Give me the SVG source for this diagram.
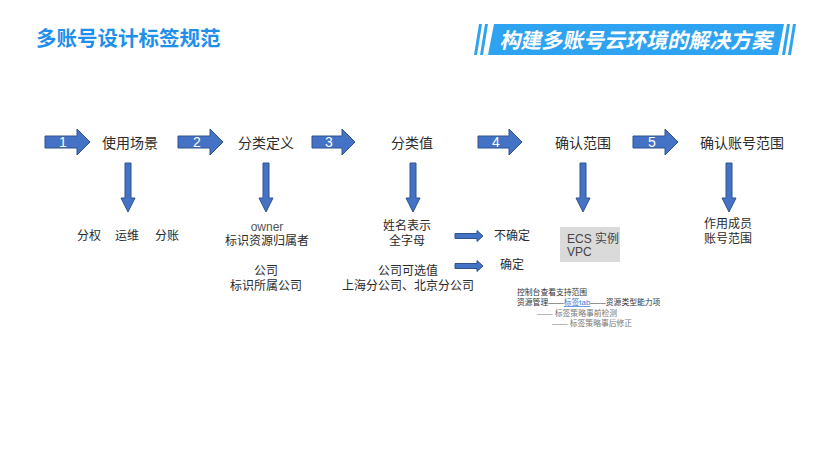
<svg xmlns="http://www.w3.org/2000/svg" width="830" height="468" viewBox="0 0 830 468">
<defs>
<style>
.t{font-family:"Liberation Sans","Noto Sans CJK SC",sans-serif;fill:#2b2b2b}
.m{font-size:14px;text-anchor:middle}
.s{font-size:12px}
.c{text-anchor:middle}
.n{font-family:"Liberation Sans",sans-serif;font-size:14px;fill:#ffffff;text-anchor:middle}
.ar{fill:#4472C4;stroke:#2F528F;stroke-width:1}
.tiny{font-family:"Liberation Sans","Noto Sans CJK SC",sans-serif;font-size:7.8px;fill:#333}
.gr{fill:#777}
.bn{fill:#2EA3F2}
</style>
</defs>
<rect width="830" height="468" fill="#ffffff"/>

<g id="title">
<text x="36" y="46" style="font-family:'Noto Sans CJK SC',sans-serif;font-size:20.5px;font-weight:bold;fill:#1E8FEA">多账号设计标签规范</text>
</g>

<g id="banner">
<polygon class="bn" points="479,24 482,24 477,55 474,55"/>
<polygon class="bn" points="485,24 488,24 483,55 480,55"/>
<polygon class="bn" points="494,24 784,24 778,55 488,55"/>
<polygon class="bn" points="787,24 790,24 785,55 782,55"/>
<polygon class="bn" points="793,24 796,24 791,55 788,55"/>
<text x="636" y="48" text-anchor="middle" transform="skewX(-12) translate(10,0)" style="font-family:'Noto Sans CJK SC',sans-serif;font-size:21px;font-weight:bold;fill:#ffffff">构建多账号云环境的解决方案</text>
</g>

<g id="connectors">
<path class="ar" d="M45,136 H77 V129 L90,142 L77,155 V148 H45 Z"/>
<text class="n" x="63" y="147">1</text>
<path class="ar" d="M178,136 H210 V129 L223,142 L210,155 V148 H178 Z"/>
<text class="n" x="197" y="147">2</text>
<path class="ar" d="M312,136 H342 V129 L355,142 L342,155 V148 H312 Z"/>
<text class="n" x="329" y="147">3</text>
<path class="ar" d="M478,136 H509 V129 L522,142 L509,155 V148 H478 Z"/>
<text class="n" x="496" y="147">4</text>
<path class="ar" d="M633,136 H665 V129 L678,142 L665,155 V148 H633 Z"/>
<text class="n" x="652" y="147">5</text>
<path class="ar" d="M125,163 H131 V198 H135 L128,212 L121,198 H125 Z"/>
<path class="ar" d="M263,163 H269 V198 H273 L266,212 L259,198 H263 Z"/>
<path class="ar" d="M410,163 H416 V198 H420 L413,212 L406,198 H410 Z"/>
<path class="ar" d="M580,163 H586 V198 H590 L583,212 L576,198 H580 Z"/>
<path class="ar" d="M726,163 H732 V198 H736 L729,212 L722,198 H726 Z"/>
<path class="ar" d="M455,233.5 H477 V230.5 L483,236 L477,241.5 V238.5 H455 Z"/>
<path class="ar" d="M455,263.5 H477 V260.5 L483,266 L477,271.5 V268.5 H455 Z"/>
</g>

<g id="step1">
<text class="t m" x="130" y="148">使用场景</text>
</g>
<g id="step1-detail">
<text class="t s" x="77" y="240">分权</text>
<text class="t s" x="115" y="240">运维</text>
<text class="t s" x="155" y="240">分账</text>
</g>

<g id="step2">
<text class="t m" x="266" y="148">分类定义</text>
</g>
<g id="step2-owner">
<text class="t s c" x="267" y="231" style="fill:#555">owner</text>
<text class="t s c" x="267" y="245">标识资源归属者</text>
</g>
<g id="step2-company">
<text class="t s c" x="266" y="275">公司</text>
<text class="t s c" x="266" y="290">标识所属公司</text>
</g>

<g id="step3">
<text class="t m" x="412" y="148">分类值</text>
</g>
<g id="step3-name">
<text class="t s c" x="407" y="230">姓名表示</text>
<text class="t s c" x="407" y="245">全字母</text>
</g>
<g id="step3-company">
<text class="t s c" x="408" y="275">公司可选值</text>
<text class="t s c" x="408" y="290">上海分公司、北京分公司</text>
</g>
<g id="uncertain">
<text class="t s" x="494" y="240">不确定</text>
</g>
<g id="certain">
<text class="t s" x="500" y="269">确定</text>
</g>

<g id="step4">
<text class="t m" x="583" y="148">确认范围</text>
</g>
<g id="step4-box">
<rect x="560" y="227" width="60" height="35" fill="#DADADA"/>
<text class="t s" x="567" y="243" style="fill:#444">ECS 实例</text>
<text class="t s" x="567" y="256" style="fill:#444">VPC</text>
</g>
<g id="step4-note">
<text class="tiny" x="517" y="295">控制台查看支持范围</text>
<text class="tiny" x="517" y="305">资源管理——<tspan fill="#3A7BD5" text-decoration="underline">标签tab</tspan>——资源类型能力项</text>
<text class="tiny gr" x="537" y="316">—— 标签策略事前检测</text>
<text class="tiny gr" x="552" y="326">—— 标签策略事后修正</text>
</g>

<g id="step5">
<text class="t m" x="742" y="148">确认账号范围</text>
</g>
<g id="step5-detail">
<text class="t s c" x="728" y="228">作用成员</text>
<text class="t s c" x="728" y="243">账号范围</text>
</g>
</svg>
